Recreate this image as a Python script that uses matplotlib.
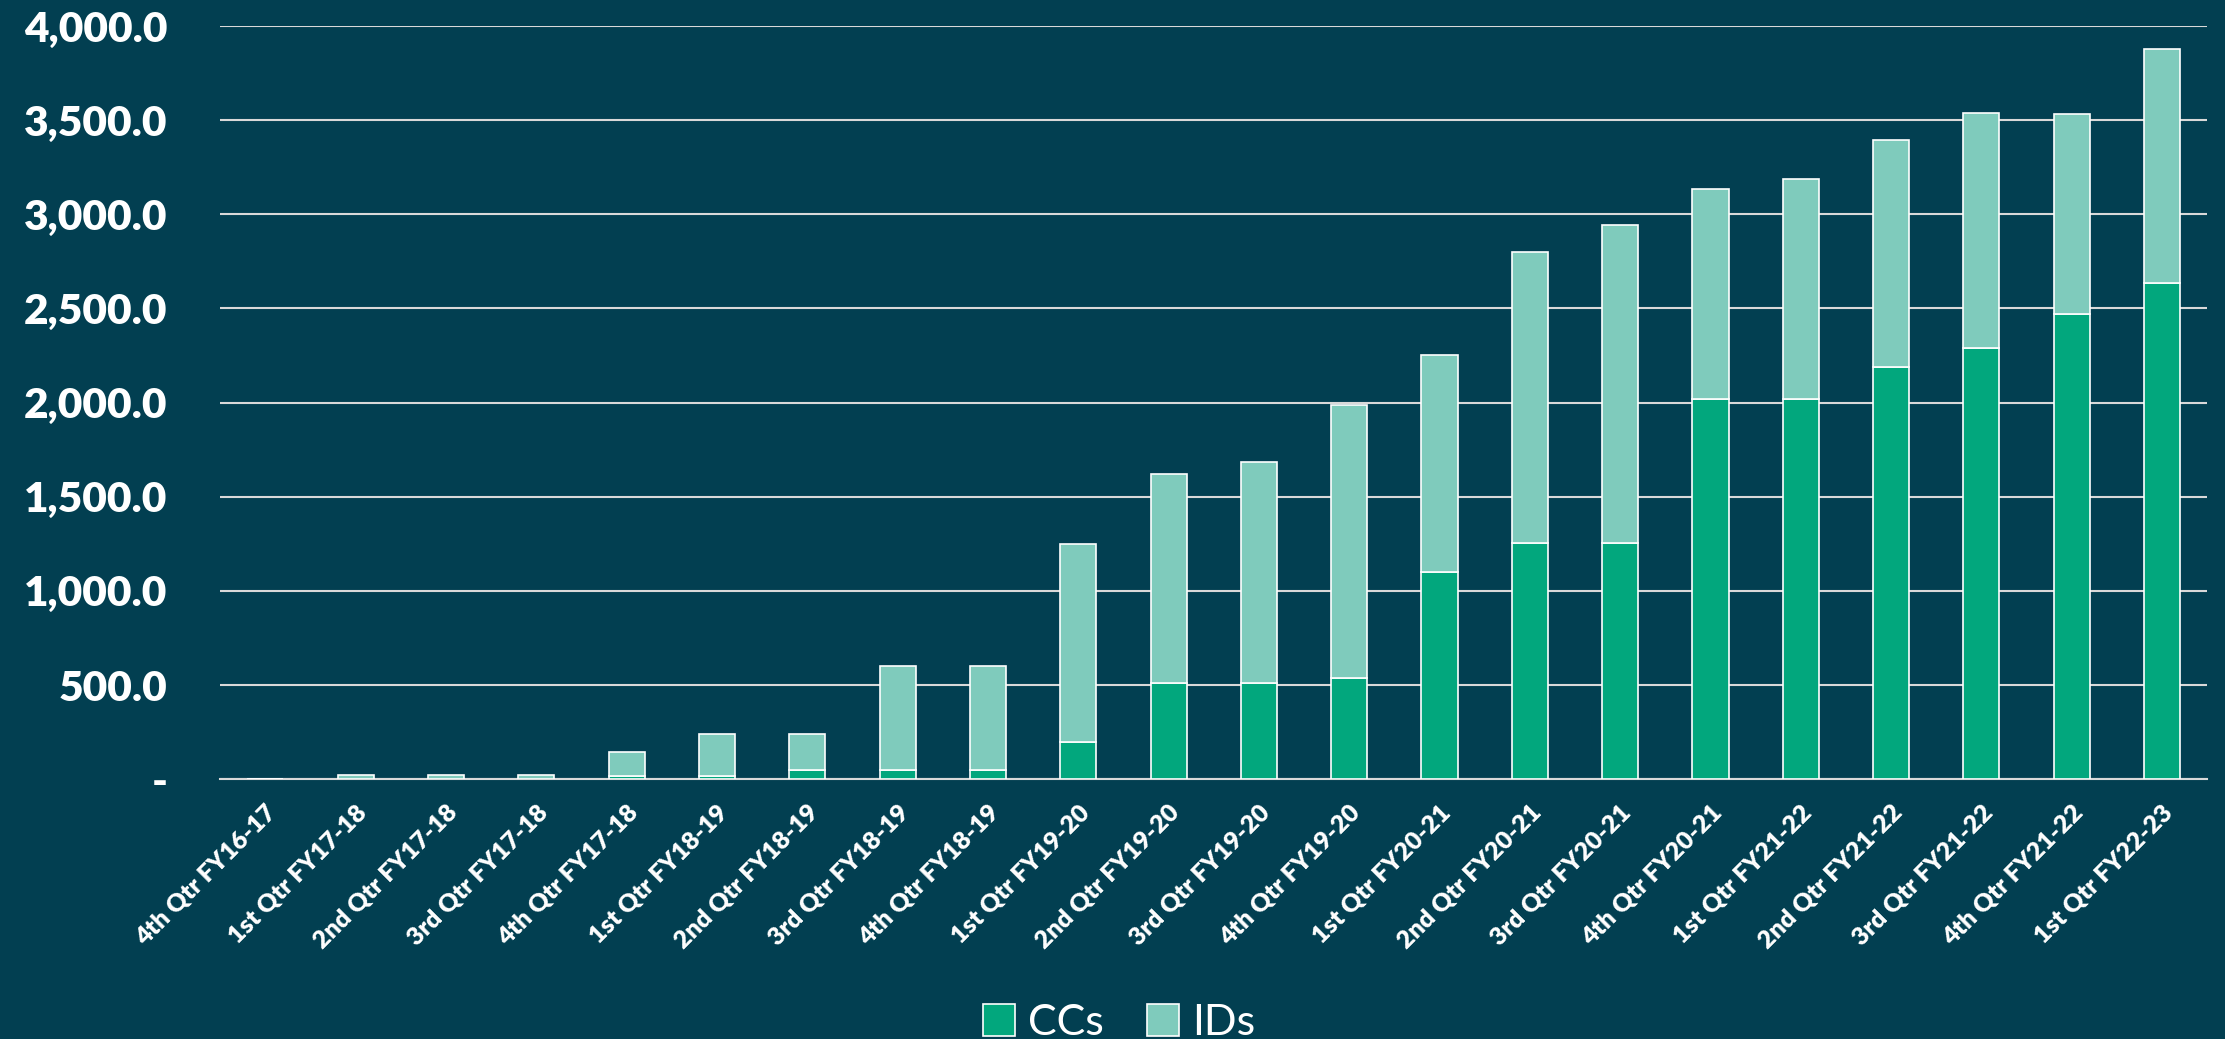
import matplotlib.pyplot as plt
import numpy as np
from matplotlib.patches import Patch
from matplotlib.ticker import FuncFormatter

BG = "#023F51"
CC_COLOR = "#02A77D"
ID_COLOR = "#7FCBBC"
GRID_COLOR = "#D9D9D9"

quarters = [
    "4th Qtr FY16-17", "1st Qtr FY17-18", "2nd Qtr FY17-18", "3rd Qtr FY17-18",
    "4th Qtr FY17-18", "1st Qtr FY18-19", "2nd Qtr FY18-19", "3rd Qtr FY18-19",
    "4th Qtr FY18-19", "1st Qtr FY19-20", "2nd Qtr FY19-20", "3rd Qtr FY19-20",
    "4th Qtr FY19-20", "1st Qtr FY20-21", "2nd Qtr FY20-21", "3rd Qtr FY20-21",
    "4th Qtr FY20-21", "1st Qtr FY21-22", "2nd Qtr FY21-22", "3rd Qtr FY21-22",
    "4th Qtr FY21-22", "1st Qtr FY22-23",
]
ccs = [0, 2, 2, 2, 18, 18, 50, 50, 50, 200, 512, 512, 535, 1100, 1257, 1257,
       2018, 2018, 2191, 2289, 2470, 2636]
totals = [0, 20, 20, 20, 147, 242, 242, 603, 603, 1250, 1619, 1687, 1988, 2251,
          2801, 2944, 3132, 3185, 3396, 3539, 3531, 3878]
ids = [t - c for t, c in zip(totals, ccs)]


def ytick_fmt(v, _pos):
    if abs(v) < 1e-9:
        return "-"
    return f"{v:,.1f}"


plt.rcParams.update({
    "font.family": "Lato",
    "font.weight": "heavy",
    "figure.dpi": 100,
    "savefig.dpi": 100,
})

fig = plt.figure(figsize=(22.25, 10.39), facecolor=BG)
ax = fig.add_axes([0.099, 0.25, 0.893, 0.725], facecolor=BG)

x = np.arange(len(quarters))
ax.bar(x, ccs, width=0.4, color=CC_COLOR, edgecolor="white", linewidth=1.2, zorder=3)
ax.bar(x, ids, width=0.4, bottom=ccs, color=ID_COLOR, edgecolor="white",
       linewidth=1.2, zorder=3)

ax.set_xlim(-0.5, len(quarters) - 0.5)
ax.set_ylim(0, 4000)
ax.set_yticks(np.arange(0, 4001, 500))
ax.yaxis.set_major_formatter(FuncFormatter(ytick_fmt))
ax.grid(True, axis="y", color=GRID_COLOR, linewidth=1.5, zorder=0)
ax.set_axisbelow(True)

for side in ("top", "right", "left"):
    ax.spines[side].set_visible(False)
ax.spines["bottom"].set_color(GRID_COLOR)
ax.spines["bottom"].set_linewidth(1.5)

ax.tick_params(axis="y", length=0, pad=38, labelsize=30.5, labelcolor="white")
ax.tick_params(axis="x", length=0, pad=16, labelsize=18, labelcolor="white")
for lbl in ax.get_yticklabels():
    lbl.set_fontweight("heavy")

ax.set_xticks(x)
ax.set_xticklabels(quarters, rotation=45, ha="right", va="top",
                   rotation_mode="anchor", fontweight="heavy")

handles = [
    Patch(facecolor=CC_COLOR, edgecolor="white", linewidth=1.2, label="CCs"),
    Patch(facecolor=ID_COLOR, edgecolor="white", linewidth=1.2, label="IDs"),
]
fig.legend(handles=handles, loc="lower center", bbox_to_anchor=(0.503, -0.04),
           ncol=2, frameon=False, labelcolor="white",
           prop={"family": "Lato", "weight": "normal", "size": 31},
           handlelength=0.75, handleheight=0.75, handletextpad=0.3,
           columnspacing=1.0)

fig.savefig("out.png", facecolor=BG)
